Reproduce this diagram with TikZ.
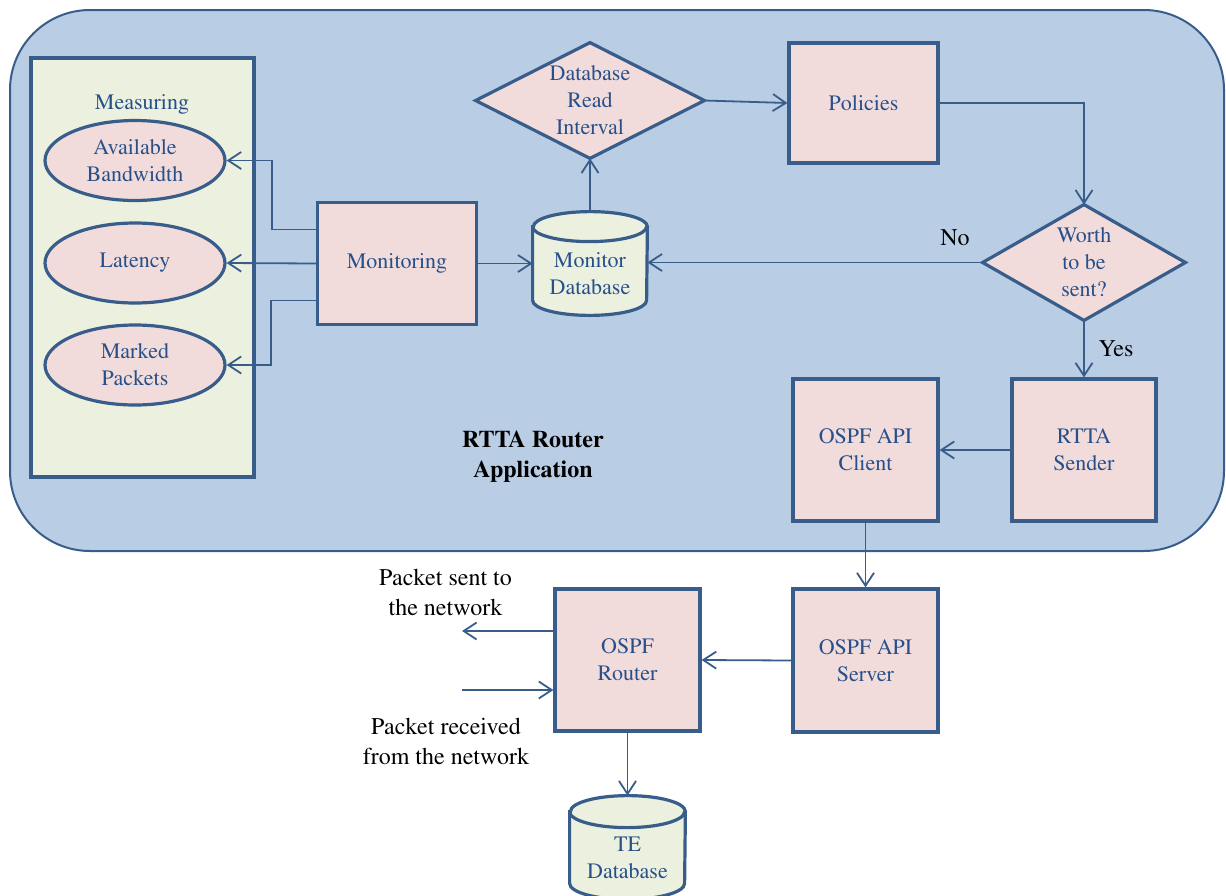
\documentclass[tikz,border=0pt]{standalone}
\usepackage[T1]{fontenc}
\usepackage{mathptmx}
\usetikzlibrary{arrows.meta,calc,shapes.geometric}
\pgfdeclarelayer{background}
\pgfsetlayers{background,main}
\definecolor{bgblue}{HTML}{B9CDE5}
\definecolor{edge}{HTML}{385D8A}
\definecolor{pinkf}{HTML}{F2DCDB}
\definecolor{greenf}{HTML}{EBF1DE}
\definecolor{txtblue}{HTML}{27508A}
\begin{document}
\begin{tikzpicture}[x=0.5pt,y=-0.5pt,
  font=\fontsize{11}{13.5}\selectfont,
  box/.style={rectangle,draw=edge,fill=pinkf,line width=1.6pt,text=txtblue,align=center,inner sep=0pt},
  oval/.style={ellipse,draw=edge,fill=pinkf,line width=1.6pt,text=txtblue,align=center,inner sep=0pt,minimum width=90pt,minimum height=40pt},
  holder/.style={rectangle,inner sep=0pt,text=txtblue,align=center},
  shapeline/.style={draw=edge,line width=1.6pt},
  arr/.style={draw=edge,line width=0.9pt,-{Straight Barb[length=6.5pt,width=8.5pt]}},
  lbl/.style={text=black,align=center,inner sep=0pt,font=\fontsize{12}{15}\selectfont}
]
\useasboundingbox (0,0) rectangle (1226,895);

\begin{pgfonlayer}{background}
\node[rectangle,draw=edge,fill=bgblue,line width=1pt,rounded corners=40pt,minimum width=607pt,minimum height=270.5pt] (app) at (617,280.5) {};
\node[rectangle,draw=edge,fill=greenf,line width=1.6pt,minimum width=111.5pt,minimum height=209.5pt] (meas) at (142.5,267.5) {};
\end{pgfonlayer}

\node[text=txtblue] (measlbl) at (142,104.5) {Measuring};
\node[oval] (ab) at (135,160.5) {Available\\Bandwidth};
\node[oval] (lat) at (135,263) {Latency};
\node[oval] (mp) at (135,365) {Marked\\Packets};

\node[box,minimum width=79.5pt,minimum height=61pt] (mon) at (397,263.5) {Monitoring};
\node[holder,minimum width=57pt,minimum height=51.5pt] (mdb) at (590,263.5) {};
\node[text=txtblue,align=center,inner sep=0pt] (mdbt) at (590,273.5) {Monitor\\Database};

\node[holder,minimum width=114pt,minimum height=57.5pt] (dri) at (590,100.5) {Database\\Read\\Interval};
\node[box,minimum width=74.5pt,minimum height=60pt] (pol) at (863.5,103) {Policies};
\node[holder,minimum width=101pt,minimum height=57.5pt] (wts) at (1084,262.5) {Worth\\to be\\sent?};

\node[box,minimum width=72pt,minimum height=71pt] (rs) at (1084,450) {RTTA\\Sender};
\node[box,minimum width=72.5pt,minimum height=71pt] (cli) at (865.5,450) {OSPF API\\Client};
\node[box,minimum width=72.5pt,minimum height=71.5pt] (srv) at (865.5,660.5) {OSPF API\\Server};
\node[box,minimum width=72.5pt,minimum height=71pt] (rtr) at (627.5,660) {OSPF\\Router};
\node[holder,minimum width=57.5pt,minimum height=51.5pt] (ted) at (627.5,847.5) {};
\node[text=txtblue,align=center,inner sep=0pt] (tedt) at (627.5,858) {TE\\Database};

\node[lbl,font=\bfseries\fontsize{12}{15}\selectfont] (title) at (533,457) {RTTA Router\\Application};
\node[lbl] (nolbl) at (955,238) {No};
\node[lbl] (yeslbl) at (1116,349) {Yes};
\node[lbl] (sentlbl) at (445.5,592) {Packet sent to\\the network};
\node[lbl] (recvlbl) at (446,741) {Packet received\\from the network};

\begin{pgfonlayer}{background}
\path[shapeline,fill=pinkf] (dri.north) -- (dri.east) -- (dri.south) -- (dri.west) -- cycle;
\path[shapeline,fill=pinkf] (wts.north) -- (wts.east) -- (wts.south) -- (wts.west) -- cycle;
\path[shapeline,fill=greenf] ([yshift=-7.5pt]mdb.north west) -- ([yshift=7.5pt]mdb.south west)
  arc[start angle=180,end angle=360,x radius=28.5pt,y radius=7.5pt]
  -- ([yshift=-7.5pt]mdb.north east)
  arc[start angle=0,end angle=180,x radius=28.5pt,y radius=7.5pt] -- cycle;
\path[shapeline] ([yshift=-7.5pt]mdb.north west) arc[start angle=180,end angle=360,x radius=28.5pt,y radius=7.5pt];
\path[shapeline,fill=greenf] ([yshift=-8pt]ted.north west) -- ([yshift=8pt]ted.south west)
  arc[start angle=180,end angle=360,x radius=28.75pt,y radius=8pt]
  -- ([yshift=-8pt]ted.north east)
  arc[start angle=0,end angle=180,x radius=28.75pt,y radius=8pt] -- cycle;
\path[shapeline] ([yshift=-8pt]ted.north west) arc[start angle=180,end angle=360,x radius=28.75pt,y radius=8pt];
\end{pgfonlayer}

\coordinate (sentend) at (462,631);
\coordinate (recvstart) at (462,690);

\draw[arr] ([yshift=17pt]mon.west) -- ++(-22pt,0) |- (ab.east);
\draw[arr] (mon.west) -- (lat.east);
\draw[arr] ([yshift=-18.5pt]mon.west) -- ++(-22.5pt,0) |- (mp.east);
\draw[arr] (mon.east) -- (mon.east -| mdb.west);
\draw[arr] (mdb.north) -- (dri.south);
\draw[arr] (dri.east) -- (pol.west);
\draw[arr] (pol.east) -| (wts.north);
\draw[arr] (wts.west) -- (wts.west -| mdb.east);
\draw[arr] (wts.south) -- (rs.north);
\draw[arr] (rs.west) -- (cli.east);
\draw[arr] (cli.south) -- (srv.north);
\draw[arr] (srv.west) -- (rtr.east);
\draw[arr] (rtr.west |- sentend) -- (sentend);
\draw[arr] (recvstart) -- (recvstart -| rtr.west);
\draw[arr] (rtr.south) -- (ted.north);
\end{tikzpicture}
\end{document}
